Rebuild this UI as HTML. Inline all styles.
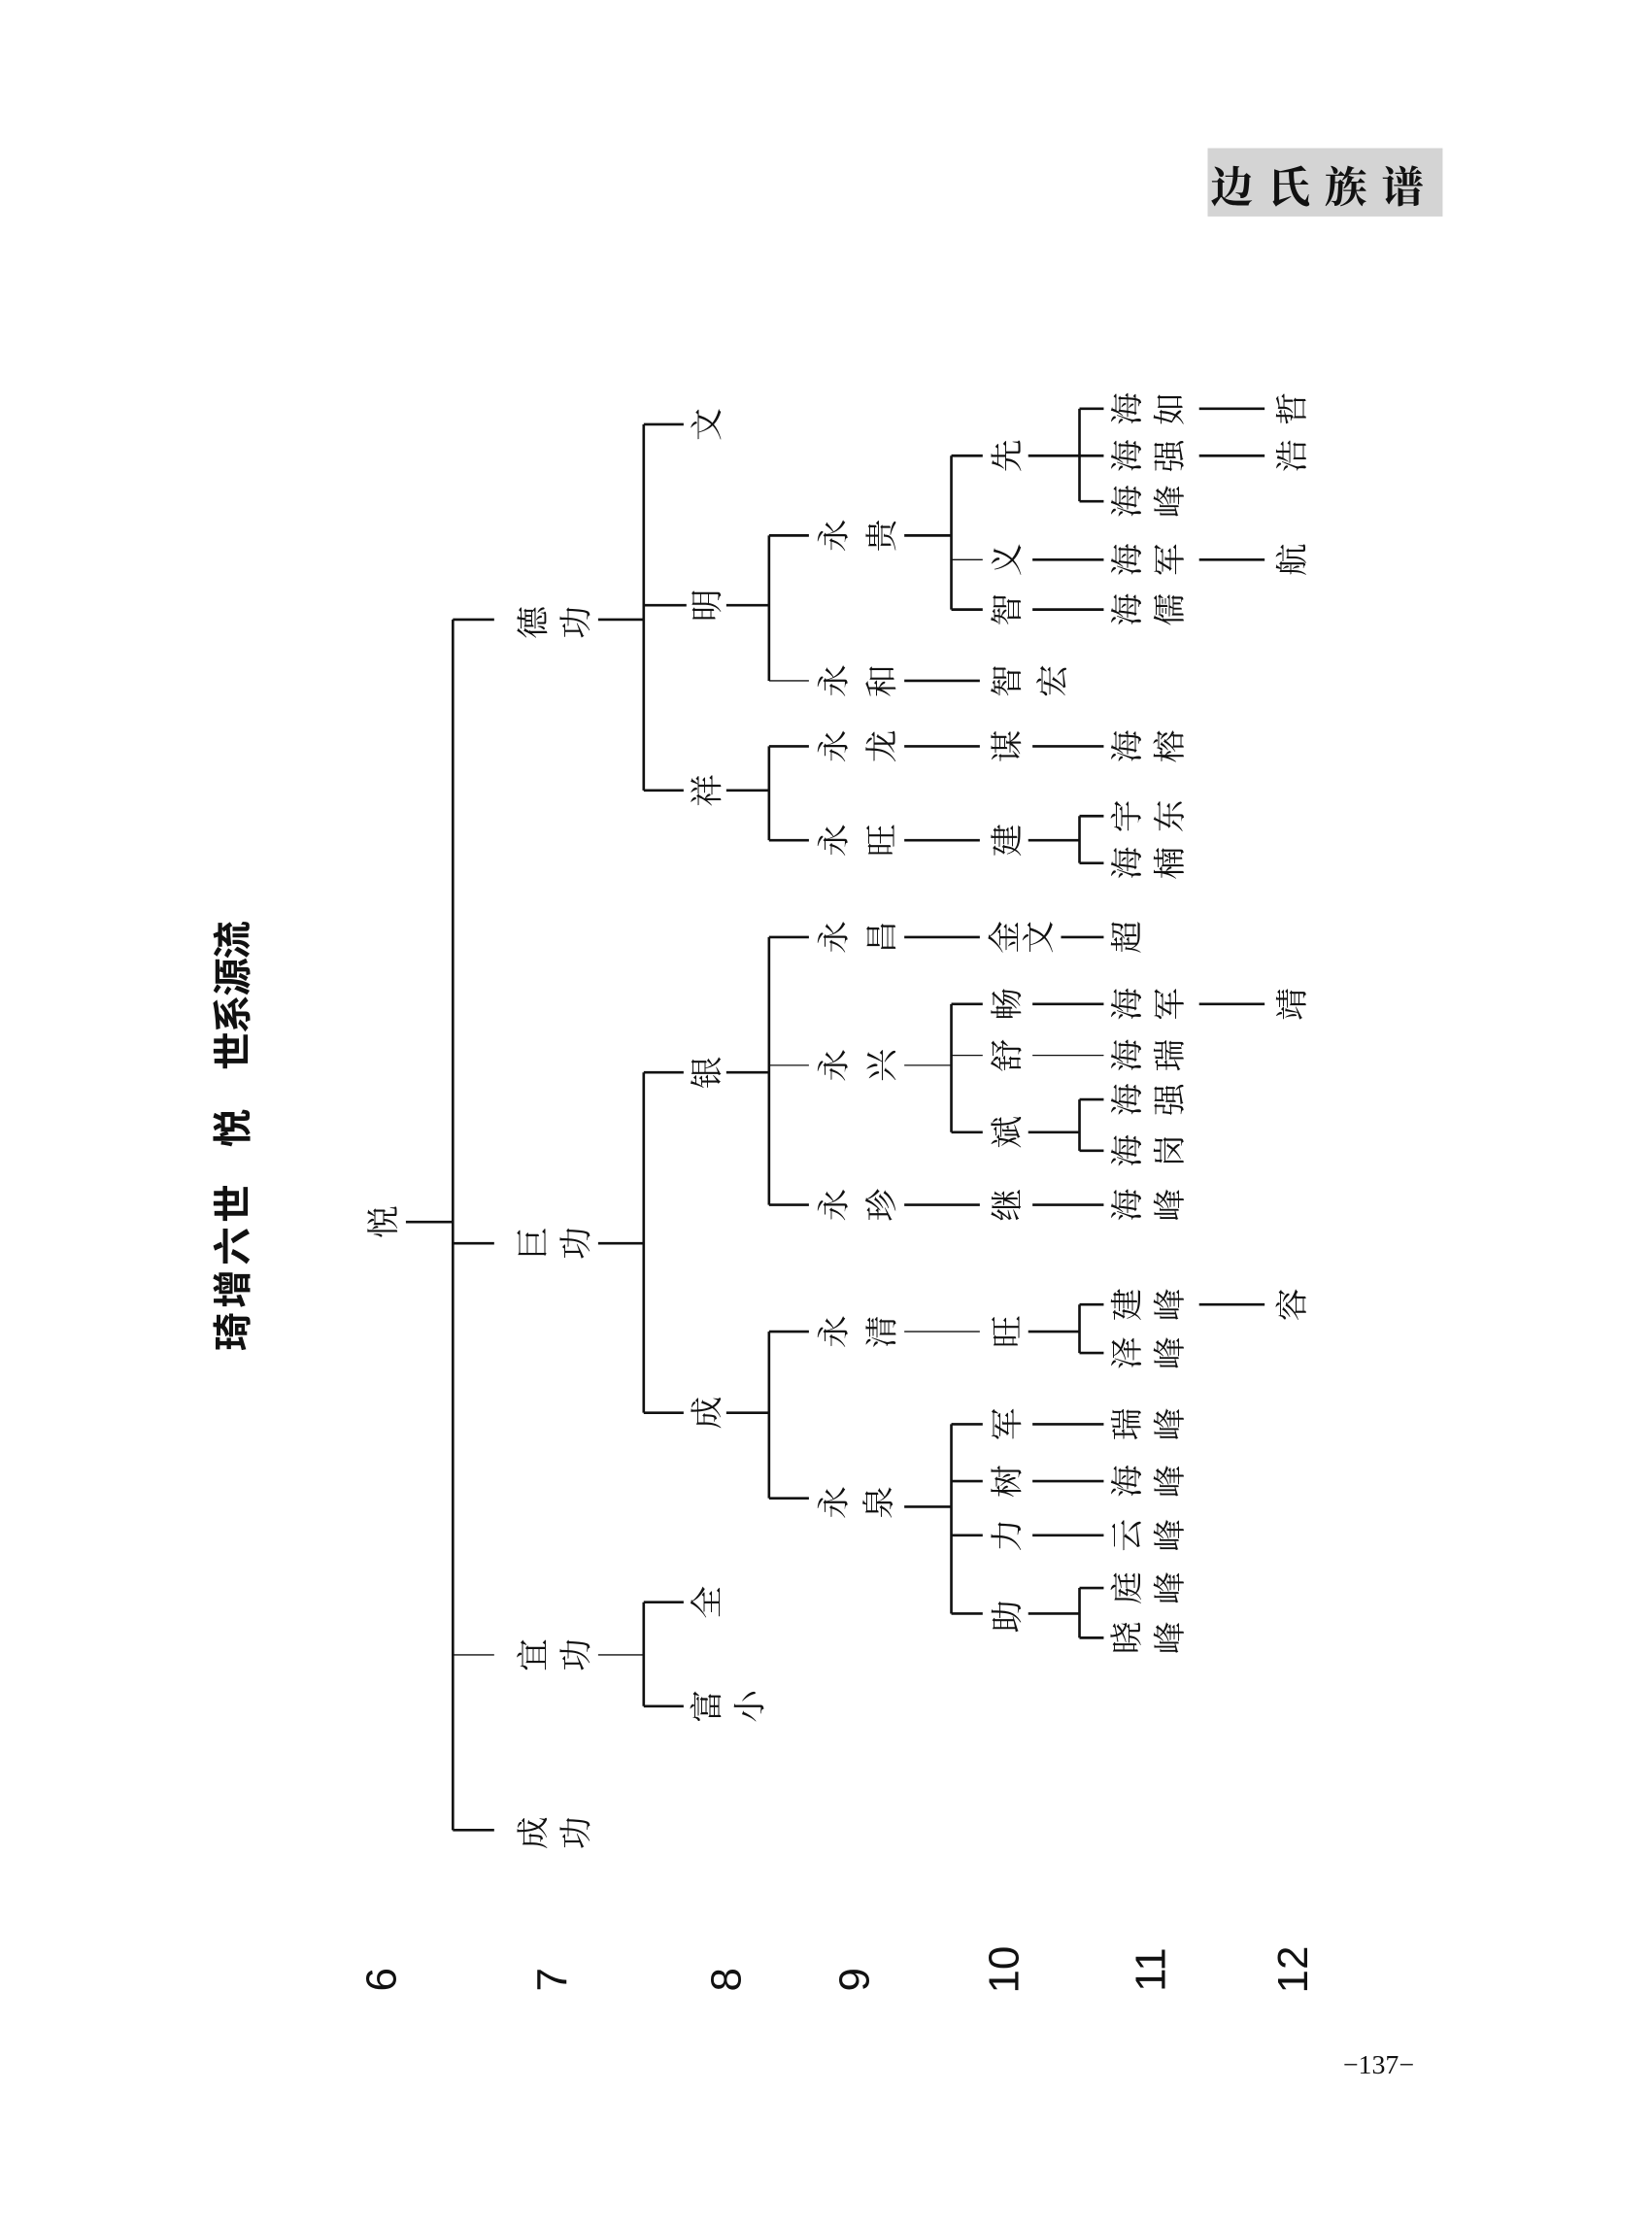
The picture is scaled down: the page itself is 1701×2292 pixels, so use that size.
<!DOCTYPE html>
<html><head><meta charset="utf-8">
<style>
html,body{margin:0;padding:0;background:#fff;}
svg{display:block;}
.c{font-family:"Liberation Serif","Noto Serif CJK SC",serif;font-size:23px;fill:#111;text-anchor:middle;dominant-baseline:central;}
.t{font-family:"Liberation Sans","Noto Sans CJK SC",sans-serif;font-size:27px;font-weight:bold;fill:#111;text-anchor:middle;dominant-baseline:central;}
.n{font-family:"Liberation Sans",sans-serif;font-size:30px;fill:#111;text-anchor:middle;dominant-baseline:central;}
</style></head>
<body>
<svg width="1701" height="2292" viewBox="0 0 1160 1563" preserveAspectRatio="none" xmlns="http://www.w3.org/2000/svg">
<rect x="0" y="0" width="1160" height="1563" fill="#fff"/>
<!-- header -->
<rect x="848" y="104" width="165" height="48" fill="#d4d4d4"/>
<text x="930" y="129" style="font-family:'Noto Serif CJK SC',serif;font-size:30px;font-weight:bold;fill:#111;text-anchor:middle;dominant-baseline:central;letter-spacing:10px">边氏族谱</text>
<text x="968" y="1450" style="font-family:'Liberation Serif',serif;font-size:19px;fill:#111;text-anchor:middle;dominant-baseline:central">−137−</text>

<!-- lines -->
<g stroke="#111" stroke-width="1.8" fill="none">
<path d="M285 858H318M318 435V1285M318 435H347M318 873H347M318 1285H347"/>
<path d="M420 435H452M452 298V555M452 298H480M452 425H482M452 555H480"/>
<path d="M510 425H540M540 376V478M540 376H568"/>
<path d="M635 376H668M668 320V428M668 320H690M668 428H690"/>
<path d="M722 320H758M758 287V352M758 287H775M758 320H775M758 352H775"/>
<path d="M842 320H888M725 393H775M842 393H888M725 428H775"/>
<path d="M635 478H688"/>
<path d="M510 555H540M540 524V590M540 524H568M540 590H568M635 524H688M725 524H775M635 590H688M722 590H758M758 573V606M758 573H775M758 606H775"/>
<path d="M420 873H452M452 753V992M452 753H480M452 992H480"/>
<path d="M510 753H540M540 658V846M540 658H568M540 846H568M635 658H688M745 658H775"/>
<path d="M668 705V795M668 705H690M668 795H690M725 705H775M842 705H888M722 795H758M758 772V808M758 772H775M758 808H775"/>
<path d="M635 846H688M725 846H775"/>
<path d="M510 992H540M540 935V1052M540 935H568M540 1052H568"/>
<path d="M722 935H758M758 916V950M758 916H775M758 950H775M842 916H888"/>
<path d="M635 1058H668M668 1000V1133M668 1000H690M668 1040H690M668 1078H690M668 1133H690M725 1000H775M725 1040H775M725 1078H775M722 1133H758M758 1115V1150M758 1115H775M758 1150H775"/>
<path d="M452 1125V1198M452 1125H480M452 1198H480"/>
<path d="M842 287H888"/>
</g>
<g stroke="#111" stroke-width="0.9" fill="none">
<path d="M318 1162H347M420 1162H452M540 478H568M668 393H690M540 748H568M635 748H668M668 741H690M725 741H775M635 935H688"/>
</g>

<!-- title -->
<g class="t">
<text x="164" y="660" transform="rotate(-90 164 660)">流</text>
<text x="164" y="686" transform="rotate(-90 164 686)">源</text>
<text x="164" y="712" transform="rotate(-90 164 712)">系</text>
<text x="164" y="738" transform="rotate(-90 164 738)">世</text>
<text x="164" y="792" transform="rotate(-90 164 792)">悦</text>
<text x="164" y="845" transform="rotate(-90 164 845)">世</text>
<text x="164" y="875" transform="rotate(-90 164 875)">六</text>
<text x="164" y="905" transform="rotate(-90 164 905)">增</text>
<text x="164" y="935" transform="rotate(-90 164 935)">琦</text>
</g>

<!-- generation numbers -->
<g class="n">
<text x="268" y="1390" transform="rotate(-90 268 1390)">6</text>
<text x="388" y="1390" transform="rotate(-90 388 1390)">7</text>
<text x="510" y="1390" transform="rotate(-90 510 1390)">8</text>
<text x="600" y="1390" transform="rotate(-90 600 1390)">9</text>
<text x="705" y="1383" transform="rotate(-90 705 1383)">10</text>
<text x="808" y="1383" transform="rotate(-90 808 1383)">11</text>
<text x="908" y="1383" transform="rotate(-90 908 1383)">12</text>
</g>

<!-- tree chars -->
<g class="c">
<text x="270" y="858" transform="rotate(-90 270 858)">悦</text>
<text x="375" y="437" transform="rotate(-90 375 437)">德</text>
<text x="405" y="437" transform="rotate(-90 405 437)">功</text>
<text x="497" y="298" transform="rotate(-90 497 298)">文</text>
<text x="497" y="425" transform="rotate(-90 497 425)">明</text>
<text x="586" y="376" transform="rotate(-90 586 376)">永</text>
<text x="620" y="376" transform="rotate(-90 620 376)">贵</text>
<text x="708" y="320" transform="rotate(-90 708 320)">先</text>
<text x="792" y="287" transform="rotate(-90 792 287)">海</text>
<text x="822" y="287" transform="rotate(-90 822 287)">如</text>
<text x="908" y="287" transform="rotate(-90 908 287)">哲</text>
<text x="792" y="320" transform="rotate(-90 792 320)">海</text>
<text x="822" y="320" transform="rotate(-90 822 320)">强</text>
<text x="908" y="320" transform="rotate(-90 908 320)">浩</text>
<text x="792" y="352" transform="rotate(-90 792 352)">海</text>
<text x="822" y="352" transform="rotate(-90 822 352)">峰</text>
<text x="708" y="393" transform="rotate(-90 708 393)">义</text>
<text x="792" y="393" transform="rotate(-90 792 393)">海</text>
<text x="822" y="393" transform="rotate(-90 822 393)">军</text>
<text x="908" y="393" transform="rotate(-90 908 393)">航</text>
<text x="708" y="428" transform="rotate(-90 708 428)">智</text>
<text x="792" y="428" transform="rotate(-90 792 428)">海</text>
<text x="822" y="428" transform="rotate(-90 822 428)">儒</text>
<text x="586" y="478" transform="rotate(-90 586 478)">永</text>
<text x="620" y="478" transform="rotate(-90 620 478)">和</text>
<text x="708" y="478" transform="rotate(-90 708 478)">智</text>
<text x="740" y="478" transform="rotate(-90 740 478)">宏</text>
<text x="497" y="555" transform="rotate(-90 497 555)">祥</text>
<text x="586" y="524" transform="rotate(-90 586 524)">永</text>
<text x="620" y="524" transform="rotate(-90 620 524)">龙</text>
<text x="708" y="524" transform="rotate(-90 708 524)">谋</text>
<text x="792" y="524" transform="rotate(-90 792 524)">海</text>
<text x="822" y="524" transform="rotate(-90 822 524)">榕</text>
<text x="586" y="590" transform="rotate(-90 586 590)">永</text>
<text x="620" y="590" transform="rotate(-90 620 590)">旺</text>
<text x="708" y="590" transform="rotate(-90 708 590)">建</text>
<text x="792" y="573" transform="rotate(-90 792 573)">宇</text>
<text x="822" y="573" transform="rotate(-90 822 573)">东</text>
<text x="792" y="606" transform="rotate(-90 792 606)">海</text>
<text x="822" y="606" transform="rotate(-90 822 606)">楠</text>

<text x="375" y="873" transform="rotate(-90 375 873)">巨</text>
<text x="405" y="873" transform="rotate(-90 405 873)">功</text>
<text x="497" y="753" transform="rotate(-90 497 753)">银</text>
<text x="586" y="658" transform="rotate(-90 586 658)">永</text>
<text x="620" y="658" transform="rotate(-90 620 658)">昌</text>
<text x="706" y="658" transform="rotate(-90 706 658)">金</text>
<text x="730" y="658" transform="rotate(-90 730 658)">文</text>
<text x="792" y="658" transform="rotate(-90 792 658)">超</text>
<text x="586" y="748" transform="rotate(-90 586 748)">永</text>
<text x="620" y="748" transform="rotate(-90 620 748)">兴</text>
<text x="708" y="705" transform="rotate(-90 708 705)">畅</text>
<text x="792" y="705" transform="rotate(-90 792 705)">海</text>
<text x="822" y="705" transform="rotate(-90 822 705)">军</text>
<text x="908" y="705" transform="rotate(-90 908 705)">靖</text>
<text x="708" y="741" transform="rotate(-90 708 741)">舒</text>
<text x="792" y="741" transform="rotate(-90 792 741)">海</text>
<text x="822" y="741" transform="rotate(-90 822 741)">瑞</text>
<text x="708" y="795" transform="rotate(-90 708 795)">斌</text>
<text x="792" y="772" transform="rotate(-90 792 772)">海</text>
<text x="822" y="772" transform="rotate(-90 822 772)">强</text>
<text x="792" y="808" transform="rotate(-90 792 808)">海</text>
<text x="822" y="808" transform="rotate(-90 822 808)">岗</text>
<text x="586" y="846" transform="rotate(-90 586 846)">永</text>
<text x="620" y="846" transform="rotate(-90 620 846)">珍</text>
<text x="708" y="846" transform="rotate(-90 708 846)">继</text>
<text x="792" y="846" transform="rotate(-90 792 846)">海</text>
<text x="822" y="846" transform="rotate(-90 822 846)">峰</text>
<text x="497" y="992" transform="rotate(-90 497 992)">成</text>
<text x="586" y="935" transform="rotate(-90 586 935)">永</text>
<text x="620" y="935" transform="rotate(-90 620 935)">清</text>
<text x="708" y="935" transform="rotate(-90 708 935)">旺</text>
<text x="792" y="916" transform="rotate(-90 792 916)">建</text>
<text x="822" y="916" transform="rotate(-90 822 916)">峰</text>
<text x="908" y="916" transform="rotate(-90 908 916)">容</text>
<text x="792" y="950" transform="rotate(-90 792 950)">泽</text>
<text x="822" y="950" transform="rotate(-90 822 950)">峰</text>
<text x="586" y="1055" transform="rotate(-90 586 1055)">永</text>
<text x="618" y="1055" transform="rotate(-90 618 1055)">泉</text>
<text x="708" y="1000" transform="rotate(-90 708 1000)">军</text>
<text x="792" y="1000" transform="rotate(-90 792 1000)">瑞</text>
<text x="822" y="1000" transform="rotate(-90 822 1000)">峰</text>
<text x="708" y="1040" transform="rotate(-90 708 1040)">树</text>
<text x="792" y="1040" transform="rotate(-90 792 1040)">海</text>
<text x="822" y="1040" transform="rotate(-90 822 1040)">峰</text>
<text x="708" y="1078" transform="rotate(-90 708 1078)">力</text>
<text x="792" y="1078" transform="rotate(-90 792 1078)">云</text>
<text x="822" y="1078" transform="rotate(-90 822 1078)">峰</text>
<text x="708" y="1135" transform="rotate(-90 708 1135)">助</text>
<text x="792" y="1115" transform="rotate(-90 792 1115)">庭</text>
<text x="822" y="1115" transform="rotate(-90 822 1115)">峰</text>
<text x="792" y="1150" transform="rotate(-90 792 1150)">晓</text>
<text x="822" y="1150" transform="rotate(-90 822 1150)">峰</text>

<text x="375" y="1162" transform="rotate(-90 375 1162)">宜</text>
<text x="405" y="1162" transform="rotate(-90 405 1162)">功</text>
<text x="497" y="1125" transform="rotate(-90 497 1125)">全</text>
<text x="497" y="1198" transform="rotate(-90 497 1198)">富</text>
<text x="527" y="1198" transform="rotate(-90 527 1198)">小</text>
<text x="375" y="1287" transform="rotate(-90 375 1287)">成</text>
<text x="405" y="1287" transform="rotate(-90 405 1287)">功</text>
</g>
</svg>
</body></html>
